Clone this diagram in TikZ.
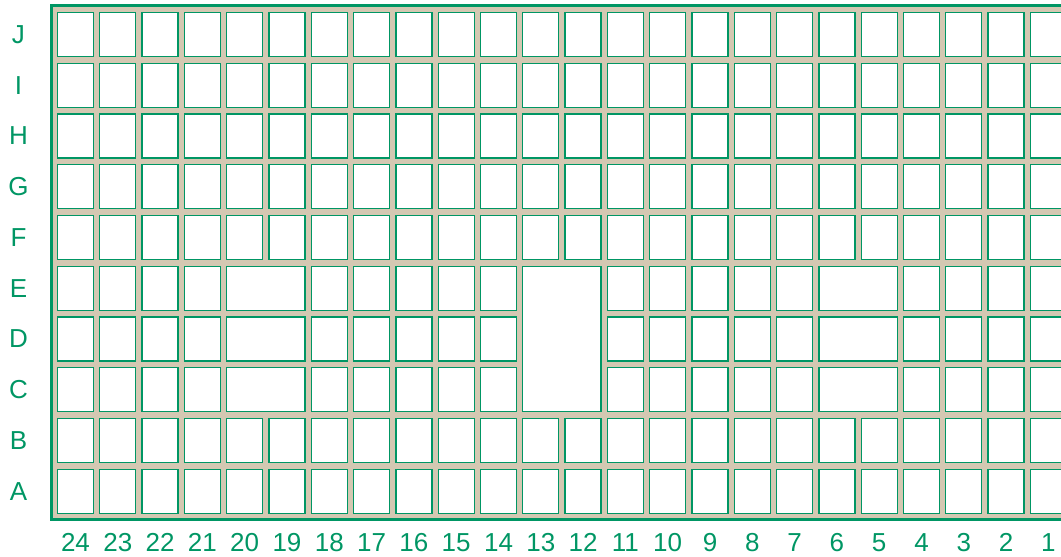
\documentclass[tikz,border=0pt]{standalone}
\usepackage{fontspec}
\setmainfont{Liberation Sans}
\definecolor{grn}{RGB}{0,150,100}
\definecolor{sand}{RGB}{212,200,178}
\begin{document}
\begin{tikzpicture}[x=1pt,y=-1pt,
  cell/.style={draw=grn,fill=white,line width=1.3pt,inner sep=0pt,outer sep=0pt,anchor=north west,minimum width=36pt,minimum height=44pt},
  lab/.style={text=grn,font=\fontsize{26}{26}\selectfont,inner sep=0pt}]
\useasboundingbox (0,0) rectangle (1061,557);
\fill[sand] (51.5,5.5) rectangle (1062,519.5);
\draw[grn,line width=3pt] (1063,5.5) -- (51.5,5.5) -- (51.5,519.5) -- (1063,519.5);
\foreach \i in {0,...,23}{
  \foreach \j in {0,...,9}{
    \pgfmathtruncatemacro\skp{(\j>=5 && \j<=7 && (\i==4||\i==5||\i==11||\i==12||\i==18||\i==19)) ? 1 : 0}
    \ifnum\skp=0
      \node[cell] (c\i-\j) at ({57.5+\i*42.3},{12.5+\j*50.75}) {};
    \fi
  }
}
% merged wide cells
\foreach \i in {4,18}{
  \foreach \j in {5,6,7}{
    \node[cell,minimum width=78.3pt] (m\i-\j) at ({57.5+\i*42.3},{12.5+\j*50.75}) {};
  }
}
% merged tall cell
\node[cell,minimum width=78.3pt,minimum height=145.5pt] (big) at ({57.5+11*42.3},{12.5+5*50.75}) {};
% row labels
\foreach \l [count=\k from 0] in {J,I,H,G,F,E,D,C,B,A}{
  \node[lab] (r\l) at (18.5,{34.5+\k*50.75}) {\l};
}
% column labels
\foreach \i in {0,...,23}{
  \pgfmathtruncatemacro\n{24-\i}
  \node[lab] (n\n) at ({75.5+\i*42.3},542.5) {\n};
}
\end{tikzpicture}
\end{document}
